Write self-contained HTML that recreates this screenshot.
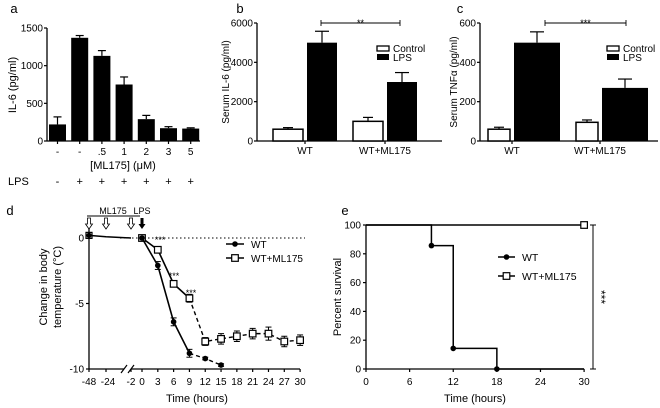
<!DOCTYPE html>
<html><head><meta charset="utf-8"><style>
body{margin:0;background:#fff;}
svg{display:block;font-family:"Liberation Sans",Arial,sans-serif;}
text{fill:#000;}
</style></head><body>
<svg id="fig" width="660" height="408" viewBox="0 0 660 408" xmlns="http://www.w3.org/2000/svg"></svg>
<script>
// ---- Panel a data ----
const aCats = ['-','-','.5','1','2','3','5'];
const aLPS = ['-','+','+','+','+','+','+'];
const aVals = [220,1370,1130,750,290,170,165];
const aErr = [100,30,70,100,50,20,10];
const aTicks = [0,500,1000,1500];
// ---- Panel b data ----
const bGroups = ['WT','WT+ML175'];
const bControl = [600,1000];
const bControlErr = [80,200];
const bLPS = [5000,3000];
const bLPSErr = [580,480];
const bTicks = [0,2000,4000,6000];
// ---- Panel c data ----
const cGroups = ['WT','WT+ML175'];
const cControl = [60,95];
const cControlErr = [10,12];
const cLPS = [500,270];
const cLPSErr = [55,45];
const cTicks = [0,200,400,600];
// ---- Panel d data ----
const dTimes = [0,3,6,9,12,15,18,21,24,27,30];
const dWT = [0,-2.1,-6.4,-8.8,-9.2,-9.7];
const dWTErr = [0,0.3,0.3,0.3,0.1,0.1];
const dML = [0,-0.9,-3.5,-4.6,-7.9,-7.7,-7.5,-7.3,-7.3,-7.9,-7.8];
const dMLErr = [0,0.2,0.2,0.3,0.3,0.4,0.4,0.4,0.5,0.4,0.4];
const dPreTimes = [-48,-24,-2];
const dPreVal = [0.2,0.1,0];
const dYTicks = [-10,-5,0];
// ---- Panel e data ----
const eWTt = [0,9,12,18,30];
const eWTv = [100,85.7,14.3,0,0];
const eMLt = [0,30];
const eMLv = [100,100];
const eXTicks = [0,6,12,18,24,30];
const eYTicks = [0,20,40,60,80,100];

const svg = document.getElementById('fig');
const NS = 'http://www.w3.org/2000/svg';
function el(tag, attrs, parent){
  const e = document.createElementNS(NS, tag);
  for (const k in attrs) e.setAttribute(k, attrs[k]);
  (parent||svg).appendChild(e);
  return e;
}
function txt(x,y,s,size,anchor,parent,rot){
  const t = el('text',{x:x,y:y,'font-size':size,'text-anchor':anchor||'middle'},parent);
  if(rot) t.setAttribute('transform','rotate('+rot+' '+x+' '+y+')');
  t.textContent = s;
  return t;
}
function line(x1,y1,x2,y2,w,parent,dash){
  const l = el('line',{x1:x1,y1:y1,x2:x2,y2:y2,stroke:'#000','stroke-width':w||1.3},parent);
  if(dash) l.setAttribute('stroke-dasharray',dash);
  return l;
}
function errBar(x,yTop,yMid,hw,parent){
  line(x,yMid,x,yTop,1.2,parent);
  line(x-hw,yTop,x+hw,yTop,1.2,parent);
}

// ================= Panel a =================
{
  const g = el('g',{});
  
  
  const y = v => 141 - v*(113/1500);
  const x0 = 47, pitch = 22.2, bw = 17;
  const xc = i => 57.5 + i*pitch;
  txt(14,13,'a',13,'middle',g);
  line(x0,28,x0,141,1.3,g);
  line(x0,141,200,141,1.3,g);
  aTicks.forEach(t=>{ line(x0-3,y(t),x0,y(t),1.2,g); txt(x0-4,y(t)+3.5,t,10,'end',g); });
  const yl = txt(16,85,'IL-6 (pg/ml)',11,'middle',g,-90);
   
  aVals.forEach((v,i)=>{
    errBar(xc(i),y(v+aErr[i]),y(v),4,g);
    const r = el('rect',{x:xc(i)-bw/2,y:y(v),width:bw,height:141-y(v),fill:'#000'},g);
    
    
    line(xc(i),141,xc(i),144,1.2,g);
    txt(xc(i),155,aCats[i],10,'middle',g);
    txt(xc(i),185,aLPS[i],11,'middle',g);
  });
  txt(123,169,'[ML175] (\u03bcM)',11,'middle',g);
  txt(8,185,'LPS',11,'start',g);
}

// ================= Panels b and c =================
function groupedPanel(opts){
  const g = el('g',{});
  
  
  const y0=141, yTop=23;
  const y = v => y0 - v*((y0-yTop)/opts.max);
  txt(opts.lx,13,opts.letter,13,'middle',g);
  line(opts.ax,yTop,opts.ax,y0,1.3,g);
  line(opts.ax,y0,opts.axEnd,y0,1.3,g);
  opts.ticks.forEach(t=>{ line(opts.ax-3,y(t),opts.ax,y(t),1.2,g); txt(opts.ax-4,y(t)+3.5,t,10,'end',g); });
  const yl = txt(opts.ylx,82,opts.ytitle,10,'middle',g,-90);
   
  opts.groups.forEach((name,i)=>{
    const cx = opts.gx[i];
    const xc1 = cx - opts.gap/2 - opts.bwC/2;
    errBar(xc1,y(opts.ctrl[i]+opts.ctrlErr[i]),y(opts.ctrl[i]),5,g);
    line(xc1-5,y(opts.ctrl[i]-opts.ctrlErr[i]),xc1+5,y(opts.ctrl[i]-opts.ctrlErr[i]),1.2,g);
    const r1 = el('rect',{x:xc1-opts.bwC/2,y:y(opts.ctrl[i]),width:opts.bwC,height:y0-y(opts.ctrl[i]),fill:'#fff',stroke:'#000','stroke-width':1.5},g);
    
    
    const xc2 = cx + opts.gap/2 + opts.bwL/2;
    errBar(xc2,y(opts.lps[i]+opts.lpsErr[i]),y(opts.lps[i]),7,g);
    const r2 = el('rect',{x:xc2-opts.bwL/2,y:y(opts.lps[i]),width:opts.bwL,height:y0-y(opts.lps[i]),fill:'#000'},g);
    
    
    line(cx,y0,cx,y0+3,1.2,g);
    txt(cx,154,name,10,'middle',g);
  });
  line(opts.s1,23,opts.s2,23,0.9,g);
  line(opts.s1,20,opts.s1,26,0.9,g);
  line(opts.s2,20,opts.s2,26,0.9,g);
  txt((opts.s1+opts.s2)/2,26,opts.stars,9,'middle',g);
  const lg = el('g',{},g);
  
  
  el('rect',{x:opts.legX,y:46,width:12,height:5,fill:'#fff',stroke:'#000','stroke-width':1.3},lg);
  txt(opts.legX+16,52,'Control',10,'start',lg);
  el('rect',{x:opts.legX,y:54,width:12,height:6,fill:'#000'},lg);
  txt(opts.legX+16,61,'LPS',10,'start',lg);
}
groupedPanel({name:'panel-b',letter:'b',lx:240,ax:257,axEnd:442,max:6000,ticks:bTicks,ylx:229,ytitle:'Serum IL-6 (pg/ml)',
  groups:bGroups,gx:[305,385],gap:4,bwC:30,bwL:30,ctrl:bControl,ctrlErr:bControlErr,lps:bLPS,lpsErr:bLPSErr,
  s1:321,s2:400,stars:'**',legX:377});
groupedPanel({name:'panel-c',letter:'c',lx:460,ax:480,axEnd:658,max:600,ticks:cTicks,ylx:457,ytitle:'Serum TNF\u03b1 (pg/ml)',
  groups:cGroups,gx:[512,600],gap:4,bwC:22,bwL:46,ctrl:cControl,ctrlErr:cControlErr,lps:cLPS,lpsErr:cLPSErr,
  s1:545,s2:626,stars:'***',legX:607});

// ================= Panel d =================
{
  const g = el('g',{});
  
  
  const y = v => 238 - v*13.1;
  const xt = t => 142 + t*5.27;
  const xPre = t => t===-48?89:(t===-24?106:(t===-2?131:89+(t+48)*0.9));
  txt(10,215,'d',13,'middle',g);
  line(89,226,89,369,1.3,g);
  line(89,369,124,369,1.3,g);
  line(131,369,300,369,1.3,g);
  line(121,373,127,365,1.2,g); line(128,373,134,365,1.2,g);
  dYTicks.forEach(t=>{ line(86,y(t),89,y(t),1.2,g); txt(84,y(t)+3.5,t,10,'end',g); });
  dPreTimes.forEach(t=>{ line(xPre(t),369,xPre(t),372,1.2,g); });
  txt(89,385,'-48',10,'middle',g); txt(108,385,'-24',10,'middle',g); txt(131,385,'-2',10,'middle',g);
  dTimes.forEach(t=>{ line(xt(t),369,xt(t),372,1.2,g); txt(xt(t),385,t,10,'middle',g); });
  txt(197,402,'Time (hours)',11,'middle',g);
  txt(47,287,'Change in body',11,'middle',g,-90);
  txt(61,287,'temperature (\u00b0C)',11,'middle',g,-90);
  line(120,238,305,238,1,g,'1.5,2.5');
  const pre = el('polyline',{points:dPreTimes.map((t,i)=>xPre(t)+','+y(dPreVal[i])).join(' '),fill:'none',stroke:'#000','stroke-width':1.5},g);
   
  el('rect',{x:xPre(-48)-3,y:y(dPreVal[0])-3,width:6,height:6,fill:'#fff',stroke:'#000','stroke-width':1.2},g);
  el('circle',{cx:xPre(-48),cy:y(dPreVal[0]),r:2.6,fill:'#000'},g);
  line(87,216,140,216,0.9,g);
  txt(113,214,'ML175',9,'middle',g);
  txt(142,214,'LPS',9,'middle',g);
  [89,106,131].forEach(ax=>{ el('path',{d:`M${ax-1.5},218 v6 h-2 l3.5,5 l3.5,-5 h-2 v-6 z`,fill:'#fff',stroke:'#000','stroke-width':0.8},g); });
  el('path',{d:'M140.5,218 v6 h-2 l3.5,5 l3.5,-5 h-2 v-6 z',fill:'#000'},g);
  function series(vals,errs,name,marker){
    const nSolid = 4;
    const pts = vals.map((v,i)=>[xt(dTimes[i]),y(v)]);
    const s1 = el('polyline',{points:pts.slice(0,nSolid).map(p=>p.join(',')).join(' '),fill:'none',stroke:'#000','stroke-width':1.6},g);
     
    const s2 = el('polyline',{points:pts.slice(nSolid-1).map(p=>p.join(',')).join(' '),fill:'none',stroke:'#000','stroke-width':1.4,'stroke-dasharray':'4,3'},g);
     
    vals.forEach((v,i)=>{
      const px = xt(dTimes[i]);
      if(errs[i]>0){ line(px,y(v+errs[i]),px,y(v-errs[i]),1,g); line(px-3,y(v+errs[i]),px+3,y(v+errs[i]),1,g); line(px-3,y(v-errs[i]),px+3,y(v-errs[i]),1,g); }
      if(marker==='sq'){ const m = el('rect',{x:px-3.3,y:y(v)-3.3,width:6.6,height:6.6,fill:'#fff',stroke:'#000','stroke-width':1.2},g);
          }
      else { const m = el('circle',{cx:px,cy:y(v),r:2.8,fill:'#000'},g);
          }
    });
  }
  series(dML,dMLErr,'d-wt-ml175','sq');
  series(dWT,dWTErr,'d-wt','dot');
  txt(160,243,'***',9,'middle',g);
  txt(174,279,'***',9,'middle',g);
  txt(191,296,'***',9,'middle',g);
  const lg = el('g',{},g);
   
  line(226,244,244,244,1.5,lg); el('circle',{cx:235,cy:244,r:2.8,fill:'#000'},lg);
  txt(251,248,'WT',10,'start',lg);
  line(226,258,244,258,1.5,lg); el('rect',{x:231.7,y:254.7,width:6.6,height:6.6,fill:'#fff',stroke:'#000','stroke-width':1.2},lg);
  txt(251,262,'WT+ML175',10,'start',lg);
}

// ================= Panel e =================
{
  const g = el('g',{});
  
  
  const y = v => 369 - v*1.44;
  const x = t => 366 + t*7.27;
  txt(345,215,'e',13,'middle',g);
  line(366,225,366,369,1.3,g);
  line(366,369,584,369,1.3,g);
  eYTicks.forEach(t=>{ line(363,y(t),366,y(t),1.2,g); txt(361,y(t)+3.5,t,10,'end',g); });
  eXTicks.forEach(t=>{ line(x(t),369,x(t),372,1.2,g); txt(x(t),385,t,10,'middle',g); });
  txt(475,402,'Time (hours)',11,'middle',g);
  txt(341,297,'Percent survival',11,'middle',g,-90);
  function step(ts,vs){
    let d = 'M'+x(ts[0])+','+y(vs[0]);
    for(let i=1;i<ts.length;i++){ d += ' H'+x(ts[i])+' V'+y(vs[i]); }
    return d;
  }
  const ml = el('path',{d:step(eMLt,eMLv),fill:'none',stroke:'#000','stroke-width':1.5},g);
   
  const wt = el('path',{d:step(eWTt,eWTv),fill:'none',stroke:'#000','stroke-width':1.5},g);
   
  for(let i=1;i<eWTt.length-1;i++){
    const c = el('circle',{cx:x(eWTt[i]),cy:y(eWTv[i]),r:2.8,fill:'#000'},g);
     
  }
  const sq = el('rect',{x:x(eMLt[1])-3.3,y:y(eMLv[1])-3.3,width:6.6,height:6.6,fill:'#fff',stroke:'#000','stroke-width':1.2},g);
   
  line(593,225,593,369,1,g); line(590,225,596,225,1,g); line(590,369,596,369,1,g);
  txt(597,297,'***',12,'middle',g,90);
  const lg = el('g',{},g);
   
  line(498,257,515,257,1.5,lg); el('circle',{cx:506.5,cy:257,r:2.8,fill:'#000'},lg);
  txt(522,261,'WT',10.5,'start',lg);
  line(498,276,515,276,1.5,lg); el('rect',{x:503.2,y:272.7,width:6.6,height:6.6,fill:'#fff',stroke:'#000','stroke-width':1.2},lg);
  txt(522,280,'WT+ML175',10.5,'start',lg);
}
</script>
</body></html>
